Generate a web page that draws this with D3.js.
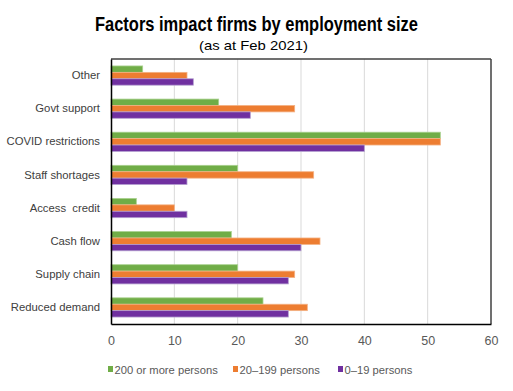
<!DOCTYPE html>
<html><head><meta charset="utf-8">
<script src="https://cdn.jsdelivr.net/npm/d3@7"></script>
<style>body{margin:0;background:#fff}text{font-family:"Liberation Sans",Arial,sans-serif;white-space:pre}</style>
</head><body>
<svg id="c" width="513" height="391"></svg>
<script>
const categories = ["Other","Govt support","COVID restrictions","Staff shortages","Access  credit","Cash flow","Supply chain","Reduced demand"];
const seriesNames = ["200 or more persons","20\u2013199 persons","0\u201319 persons"];
const large = [5,17,52,20,4,19,20,24];
const medium = [12,29,52,32,10,33,29,31];
const small = [13,22,40,12,12,30,28,28];
const xTicks = [0,10,20,30,40,50,60];
const colors = ["#70AD47","#ED7D31","#7030A0"];
const strokes = ["#A9D18E","#F4B183","#B4A0D0"];
const series = [large, medium, small];

const svg = d3.select("#c");
const L=111, R=491, T=59, B=324;
const x = d3.scaleLinear().domain([0,60]).range([L,R]);
const y = d3.scaleBand().domain(categories).range([T,B]).paddingInner(0.42).paddingOuter(0.21);
const ys = d3.scaleBand().domain([0,1,2]).range([0,y.bandwidth()]);

svg.append("text").attr("x",256.5).attr("y",31).attr("text-anchor","middle")
  .attr("font-weight","bold").attr("font-size",19.5).attr("fill","#000")
  .attr("textLength",323).attr("lengthAdjust","spacingAndGlyphs")
  .text("Factors impact firms by employment size");
svg.append("text").attr("x",253.5).attr("y",50).attr("text-anchor","middle")
  .attr("font-size",13.5).attr("fill","#000")
  .attr("textLength",109).attr("lengthAdjust","spacingAndGlyphs")
  .text("(as at Feb 2021)");

// grid
svg.append("g").selectAll("line").data(xTicks.slice(1,-1)).join("line")
  .attr("x1",d=>x(d)).attr("x2",d=>x(d)).attr("y1",T).attr("y2",B)
  .attr("stroke","#D9D9D9").attr("stroke-width",1);

// bars
categories.forEach((c,i)=>{
  series.forEach((s,j)=>{
    svg.append("rect").attr("x",x(0)).attr("y",y(c)+ys(j))
      .attr("width",x(s[i])-x(0)).attr("height",ys.bandwidth())
      .attr("fill",colors[j]).attr("stroke",strokes[j]).attr("stroke-width",0.8);
  });
});

// border
svg.append("line").attr("x1",L).attr("x2",R).attr("y1",T).attr("y2",T).attr("stroke","#404040").attr("stroke-width",1.5);
svg.append("line").attr("x1",R).attr("x2",R).attr("y1",T).attr("y2",B).attr("stroke","#404040").attr("stroke-width",1.5);

// axes
const xa = svg.append("g").attr("transform",`translate(0,${B})`)
  .call(d3.axisBottom(x).tickValues(xTicks).tickSize(0).tickPadding(12));
xa.select(".domain").attr("stroke","#000").attr("stroke-width",1.5);
xa.selectAll("text").attr("font-size",12.5).attr("fill","#595959").style("font-family","'Liberation Sans',Arial,sans-serif");

const ya = svg.append("g").attr("transform",`translate(${L},0)`)
  .call(d3.axisLeft(y).tickSize(0).tickPadding(11));
ya.select(".domain").attr("stroke","#000").attr("stroke-width",1.5);
ya.selectAll("text").attr("font-size",11.3).attr("fill","#404040").style("font-family","'Liberation Sans',Arial,sans-serif");

// legend
const lx = [108,233,338];
seriesNames.forEach((n,j)=>{
  svg.append("rect").attr("x",lx[j]).attr("y",366).attr("width",5).attr("height",6).attr("fill",colors[j]);
  svg.append("text").attr("x",lx[j]+6.5).attr("y",374).attr("font-size",11.2).attr("fill","#595959").text(n);
});
</script>
</body></html>
